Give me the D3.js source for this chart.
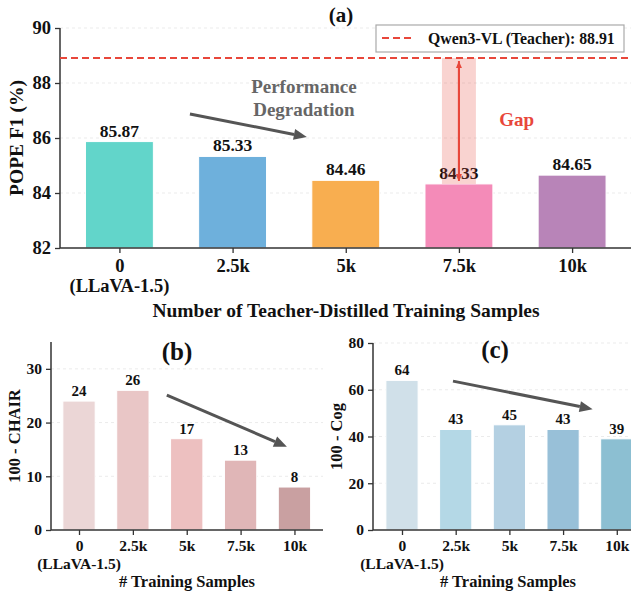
<!DOCTYPE html>
<html>
<head>
<meta charset="utf-8">
<script src="https://cdn.jsdelivr.net/npm/d3@7"></script>
<style>
  body { margin: 0; background: #fff; }
  svg { display: block; font-family: "Liberation Serif", "Times New Roman", serif; font-weight: bold; }
</style>
</head>
<body>
<svg id="chart" width="631" height="595"></svg>
<script>
const sampleLabels = ["0", "2.5k", "5k", "7.5k", "10k"];
const baselineNote = "(LLaVA-1.5)";
const popeF1 = [85.87, 85.33, 84.46, 84.33, 84.65];
const chairScores = [24, 26, 17, 13, 8];
const cogScores = [64, 43, 45, 43, 39];
const teacherF1 = 88.91;
const teacherName = "Qwen3-VL (Teacher)";

const popeColors = ["#62d5ca", "#6eb0dc", "#f8ae50", "#f48bb8", "#b884b8"];
const chairColors = ["#ebd6d6", "#e9c6c6", "#edc0c0", "#e0b6b7", "#c9a0a1"];
const cogColors = ["#d0e0e9", "#b4d8e6", "#b4d0e2", "#98c0d8", "#8cbfd2"];

const popeTicks = [82, 84, 86, 88, 90];
const chairTicks = [0, 10, 20, 30];
const cogTicks = [0, 20, 40, 60, 80];

const svg = d3.select("#chart");
const axisColor = "#333";
const arrowGray = "#555";
const red = "#e8473b";

// arrow: line + filled head
function arrow(g, x1, y1, x2, y2, color, width, headLen, headW) {
  const a = Math.atan2(y2 - y1, x2 - x1);
  const bx = x2 - Math.cos(a) * headLen, by = y2 - Math.sin(a) * headLen;
  g.append("line")
    .attr("x1", x1).attr("y1", y1).attr("x2", bx).attr("y2", by)
    .attr("stroke", color).attr("stroke-width", width);
  const px = Math.sin(a) * headW / 2, py = -Math.cos(a) * headW / 2;
  g.append("path")
    .attr("d", `M${x2},${y2}L${bx + px},${by + py}L${bx - px},${by - py}Z`)
    .attr("fill", color);
}

function panel(opts) {
  const g = svg.append("g");
  const { x, y, values, colors, ticks } = opts;

  // grid
  g.selectAll(".grid")
    .data(ticks.filter(t => t !== y.domain()[0]))
    .enter().append("line")
    .attr("x1", x.range()[0]).attr("x2", x.range()[1])
    .attr("y1", d => y(d)).attr("y2", d => y(d))
    .attr("stroke", "#e6e6e6").attr("stroke-width", 0.8)
    .attr("stroke-dasharray", "3,3");

  // bars
  const bw = (x(1) - x(0)) * 0.6;
  g.selectAll(".bar")
    .data(values)
    .enter().append("rect")
    .attr("x", (d, i) => x(i) - bw / 2)
    .attr("y", d => y(d))
    .attr("width", bw)
    .attr("height", d => y(y.domain()[0]) - y(d))
    .attr("fill", (d, i) => colors[i])
    .attr("stroke", "#fff").attr("stroke-width", 1);

  // value labels
  g.selectAll(".val")
    .data(values)
    .enter().append("text")
    .attr("x", (d, i) => x(i))
    .attr("y", d => y(d) - opts.valGap)
    .attr("text-anchor", "middle")
    .attr("font-size", opts.valSize)
    .attr("fill", "#111")
    .text(d => opts.fmt(d));

  // y axis
  const yAxis = g.append("g")
    .attr("transform", `translate(${x.range()[0]},0)`)
    .call(d3.axisLeft(y).tickValues(ticks).tickSize(5).tickPadding(4).tickFormat(d3.format("d")));
  yAxis.select(".domain").attr("stroke", axisColor).attr("stroke-width", 1.5)
    .attr("d", `M0,${y.range()[0]}V${y.range()[1]}`);
  yAxis.selectAll(".tick line").attr("stroke", axisColor).attr("stroke-width", 1.3);
  yAxis.selectAll(".tick text")
    .attr("font-family", "Liberation Serif").attr("font-weight", "bold")
    .attr("font-size", opts.tickSize).attr("fill", "#111");

  // x axis
  const xAxis = g.append("g")
    .attr("transform", `translate(0,${y.range()[0]})`)
    .call(d3.axisBottom(x).tickValues(d3.range(values.length)).tickSize(5).tickPadding(3).tickFormat(i => sampleLabels[i]));
  xAxis.select(".domain").attr("stroke", axisColor).attr("stroke-width", 1.5)
    .attr("d", `M${x.range()[0]},0H${x.range()[1]}`);
  xAxis.selectAll(".tick line").attr("stroke", axisColor).attr("stroke-width", 1.3);
  xAxis.selectAll(".tick text")
    .attr("font-family", "Liberation Serif").attr("font-weight", "bold")
    .attr("font-size", opts.tickSize).attr("fill", "#111")
    .attr("dy", "0.85em");
  xAxis.append("text")
    .attr("x", x(0)).attr("y", opts.noteY)
    .attr("text-anchor", "middle").attr("font-size", opts.tickSize).attr("fill", "#111")
    .attr("font-family", "Liberation Serif").attr("font-weight", "bold")
    .text(baselineNote);

  // y label
  g.append("text")
    .attr("transform", `translate(${opts.yLabelX},${(y.range()[0] + y.range()[1]) / 2}) rotate(-90)`)
    .attr("text-anchor", "middle")
    .attr("font-size", opts.yLabelSize).attr("fill", "#111")
    .text(opts.yLabel);

  // title
  g.append("text")
    .attr("x", opts.titleX).attr("y", opts.titleY)
    .attr("text-anchor", "middle")
    .attr("font-size", opts.titleSize).attr("fill", "#111")
    .text(opts.title);

  return g;
}

// ---- panel (a)
const xa = d3.scaleLinear().domain([-0.525, 4.6]).range([60, 640]);
const ya = d3.scaleLinear().domain([82, 90]).range([248, 28]);
const ga = panel({
  x: xa, y: ya, values: popeF1, colors: popeColors, ticks: popeTicks,
  fmt: d3.format(".2f"), valSize: 17.5, valGap: 5, tickSize: 18.5, noteY: 44,
  yLabel: "POPE F1 (%)", yLabelX: 23, yLabelSize: 19.5,
  title: "(a)", titleX: 341, titleY: 22, titleSize: 21
});

// teacher line
ga.append("line")
  .attr("x1", xa.range()[0]).attr("x2", 631)
  .attr("y1", ya(teacherF1)).attr("y2", ya(teacherF1))
  .attr("stroke", red).attr("stroke-width", 2).attr("stroke-dasharray", "7,4");

// gap band + double arrow on 7.5k bar
const gapIdx = 3;
const step = xa(1) - xa(0);
ga.append("rect")
  .attr("x", xa(gapIdx) - step * 0.15).attr("width", step * 0.3)
  .attr("y", ya(teacherF1)).attr("height", ya(popeF1[gapIdx]) - ya(teacherF1))
  .attr("fill", red).attr("opacity", 0.24);
arrow(ga, xa(gapIdx), ya(popeF1[gapIdx]) - 3, xa(gapIdx), ya(teacherF1) + 3, red, 2, 7, 6);
arrow(ga, xa(gapIdx), ya(teacherF1) + 3, xa(gapIdx), ya(popeF1[gapIdx]) - 3, red, 2, 7, 6);
ga.append("text")
  .attr("x", xa(3.51)).attr("y", ya(86.65) + 6)
  .attr("text-anchor", "middle").attr("font-size", 19).attr("fill", red)
  .text("Gap");

// degradation arrow + label
arrow(ga, xa(0.623), ya(86.87), xa(1.656), ya(86.04), arrowGray, 3, 13, 11);
const deg = ga.append("text")
  .attr("text-anchor", "middle").attr("font-size", 19).attr("fill", "#666");
deg.append("tspan").attr("x", xa(1.63)).attr("y", 93).text("Performance");
deg.append("tspan").attr("x", xa(1.63)).attr("y", 116).text("Degradation");

// legend
const lg = ga.append("g");
lg.append("rect").attr("x", 376).attr("y", 25).attr("width", 248).attr("height", 27)
  .attr("fill", "#fff").attr("stroke", "#aaa").attr("stroke-width", 1.2);
lg.append("line").attr("x1", 382).attr("x2", 413).attr("y1", 38).attr("y2", 38)
  .attr("stroke", red).attr("stroke-width", 2).attr("stroke-dasharray", "7,4");
lg.append("text").attr("x", 428).attr("y", 43.5)
  .attr("font-size", 15.8).attr("fill", "#111")
  .text(`${teacherName}: ${teacherF1}`);

// shared x title
svg.append("text")
  .attr("x", 346).attr("y", 317)
  .attr("text-anchor", "middle").attr("font-size", 19.5).attr("fill", "#111")
  .text("Number of Teacher-Distilled Training Samples");

// ---- panel (b)
const xb = d3.scaleLinear().domain([-0.52, 4.53]).range([51, 323]);
const yb = d3.scaleLinear().domain([0, 35]).range([530, 342]);
const gb = panel({
  x: xb, y: yb, values: chairScores, colors: chairColors, ticks: chairTicks,
  fmt: d3.format("d"), valSize: 15, valGap: 5, tickSize: 15.5, noteY: 39,
  yLabel: "100 - CHAIR", yLabelX: 20, yLabelSize: 16.5,
  title: "(b)", titleX: 177, titleY: 360, titleSize: 25
});
arrow(gb, xb(1.63), yb(25.1), xb(3.86), yb(15.5), arrowGray, 3, 13, 11);
gb.append("text")
  .attr("x", 187).attr("y", 587)
  .attr("text-anchor", "middle").attr("font-size", 16.5).attr("fill", "#111")
  .text("# Training Samples");

// ---- panel (c)
const xc = d3.scaleLinear().domain([-0.54, 4.6]).range([373, 649]);
const yc = d3.scaleLinear().domain([0, 80]).range([530, 343]);
const gc = panel({
  x: xc, y: yc, values: cogScores, colors: cogColors, ticks: cogTicks,
  fmt: d3.format("d"), valSize: 15, valGap: 5, tickSize: 15.5, noteY: 39,
  yLabel: "100 - Cog", yLabelX: 342, yLabelSize: 16.5,
  title: "(c)", titleX: 495, titleY: 358, titleSize: 25
});
arrow(gc, xc(0.95), yc(63.7), xc(3.55), yc(51.7), arrowGray, 3, 13, 11);
gc.append("text")
  .attr("x", 508).attr("y", 587)
  .attr("text-anchor", "middle").attr("font-size", 16.5).attr("fill", "#111")
  .text("# Training Samples");
</script>
</body>
</html>
